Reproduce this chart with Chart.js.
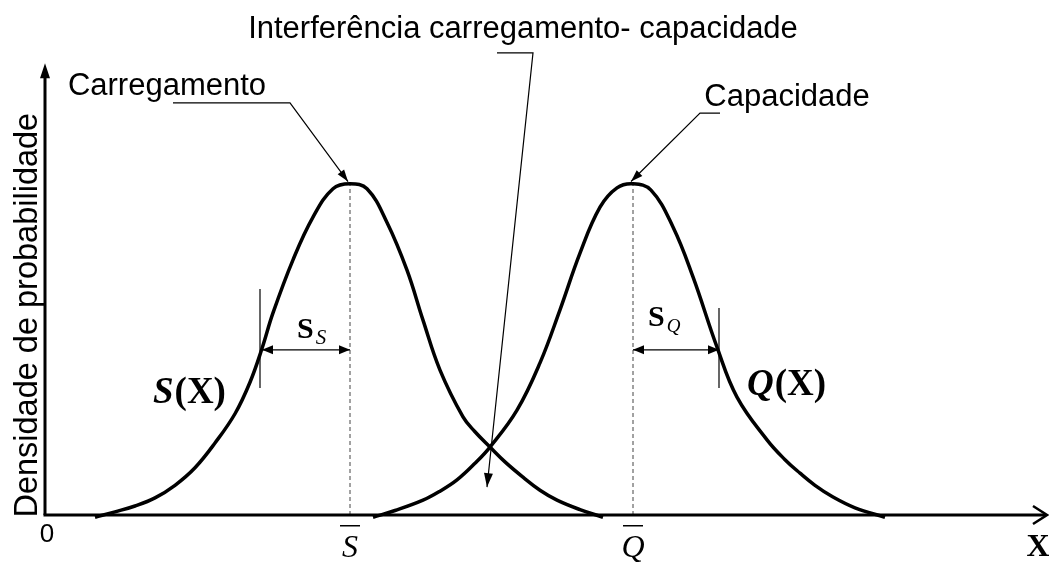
<!DOCTYPE html>
<html>
<head>
<meta charset="utf-8">
<script src="https://cdn.jsdelivr.net/npm/chart.js@4.4.0/dist/chart.umd.min.js"></script>
<style>
  html, body { margin: 0; padding: 0; background: #fff; }
  #wrap { width: 1049px; height: 563px; }
</style>
</head>
<body>
<div id="wrap"><canvas id="stressChart" width="1049" height="563"></canvas></div>
<script>
// Load (S) and capacity (Q) density curves
const loadX = [5.0, 7, 9, 11, 13, 15, 17, 19, 20.5, 21.7, 22.8, 24.8, 26.8, 28.8, 30.5, 32.2, 34.2, 36.2, 37.8, 39.5, 41.8, 43, 44.5, 46, 47.8, 49.5, 51.2, 53.5, 55.8];
const loadY = [-0.005, 0.007, 0.02, 0.038, 0.066, 0.105, 0.16, 0.225, 0.295, 0.37, 0.449, 0.567, 0.662, 0.725, 0.736, 0.725, 0.650, 0.544, 0.433, 0.322, 0.218, 0.185, 0.151, 0.118, 0.084, 0.055, 0.033, 0.012, -0.005];
const capX = [32.8, 35, 37.8, 39.5, 41.2, 43, 44.5, 47.2, 49.5, 51.5, 53.5, 55.5, 57.2, 58.8, 60.6, 62.8, 64.8, 67.2, 69.2, 72.2, 74, 75.5, 77, 78.8, 81, 84.0];
const capY = [-0.005, 0.01, 0.033, 0.053, 0.078, 0.115, 0.151, 0.233, 0.338, 0.456, 0.582, 0.684, 0.727, 0.736, 0.722, 0.640, 0.529, 0.373, 0.262, 0.167, 0.123, 0.093, 0.066, 0.040, 0.016, -0.005];

const loadMean = 30.5, loadSd = 8.8;
const capMean = 58.8, capSd = 8.6;
const peak = 0.736, sdLevel = 0.367;

const serif = '"Liberation Serif", "Times New Roman", serif';
const sans = '"Liberation Sans", Arial, sans-serif';

function arrowHead(ctx, x0, y0, x1, y1, len, half) {
  const a = Math.atan2(y1 - y0, x1 - x0);
  ctx.beginPath();
  ctx.moveTo(x1, y1);
  ctx.lineTo(x1 - len * Math.cos(a) + half * Math.sin(a), y1 - len * Math.sin(a) - half * Math.cos(a));
  ctx.lineTo(x1 - len * Math.cos(a) - half * Math.sin(a), y1 - len * Math.sin(a) + half * Math.cos(a));
  ctx.closePath();
  ctx.fill();
}

function polyline(ctx, pts) {
  ctx.beginPath();
  pts.forEach((p, i) => i ? ctx.lineTo(p[0], p[1]) : ctx.moveTo(p[0], p[1]));
  ctx.stroke();
}

const decorations = {
  id: "decorations",
  beforeDatasetsDraw(chart) {
    const { ctx, scales: { x, y } } = chart;
    ctx.save();
    ctx.strokeStyle = "#444";
    ctx.lineWidth = 1;
    ctx.setLineDash([4, 3]);
    [loadMean, capMean].forEach(m => {
      polyline(ctx, [[x.getPixelForValue(m), y.getPixelForValue(0)], [x.getPixelForValue(m), y.getPixelForValue(peak)]]);
    });
    ctx.restore();
  },
  afterDatasetsDraw(chart) {
    const { ctx, scales: { x, y } } = chart;
    const P = (a, b) => [x.getPixelForValue(a), y.getPixelForValue(b)];
    ctx.save();
    ctx.strokeStyle = "#000";
    ctx.fillStyle = "#000";

    // axes
    const o = P(0, 0), yt = P(0, 1.004), xt = P(100.2, 0);
    ctx.lineWidth = 3;
    polyline(ctx, [o, [yt[0], yt[1] + 10]]);
    arrowHead(ctx, o[0], o[1], yt[0], yt[1], 15, 5);
    polyline(ctx, [[o[0] - 1.5, o[1]], [xt[0] - 2, xt[1]]]);
    ctx.lineWidth = 2.5;
    polyline(ctx, [[xt[0] - 14, xt[1] - 9], xt, [xt[0] - 14, xt[1] + 9]]);

    // spread markers
    ctx.lineWidth = 1.2;
    polyline(ctx, [P(loadMean - loadSd - 0.2, 0.502), P(loadMean - loadSd - 0.2, 0.282)]);
    polyline(ctx, [P(capMean + capSd, 0.46), P(capMean + capSd, 0.282)]);
    const a1 = P(loadMean - loadSd, sdLevel), a2 = P(loadMean, sdLevel);
    polyline(ctx, [a1, a2]);
    arrowHead(ctx, a2[0], a2[1], a1[0], a1[1], 11, 4.5);
    arrowHead(ctx, a1[0], a1[1], a2[0], a2[1], 11, 4.5);
    const b1 = P(capMean, sdLevel), b2 = P(capMean + capSd, sdLevel);
    polyline(ctx, [b1, b2]);
    arrowHead(ctx, b2[0], b2[1], b1[0], b1[1], 11, 4.5);
    arrowHead(ctx, b1[0], b1[1], b2[0], b2[1], 11, 4.5);

    // leader lines
    ctx.lineWidth = 1.2;
    let l1 = [P(12.8, 0.916), P(24.5, 0.916), P(30.3, 0.741)];
    polyline(ctx, l1);
    arrowHead(ctx, l1[1][0], l1[1][1], l1[2][0], l1[2][1], 12, 4);
    let l2 = [P(67.5, 0.893), P(65.5, 0.893), P(58.6, 0.741)];
    polyline(ctx, l2);
    arrowHead(ctx, l2[1][0], l2[1][1], l2[2][0], l2[2][1], 12, 4);
    let l3 = [P(45.2, 1.027), P(48.8, 1.027), P(44.2, 0.062)];
    polyline(ctx, l3);
    arrowHead(ctx, l3[1][0], l3[1][1], l3[2][0], l3[2][1], 14, 4.5);

    // text
    ctx.textAlign = "center";
    ctx.textBaseline = "middle";
    const text = (s, font, p) => { ctx.font = font; ctx.fillText(s, p[0], p[1]); };
    text("Interferência carregamento- capacidade", "31px " + sans, P(47.8, 1.078));
    text("Carregamento", "31px " + sans, P(12.2, 0.953));
    text("Capacidade", "31px " + sans, P(74.2, 0.927));
    text("0", "26px " + sans, P(0.2, -0.044));

    ctx.save();
    const yl = P(-1.7, 0.444);
    ctx.translate(yl[0], yl[1]);
    ctx.rotate(-Math.PI / 2);
    ctx.font = "32.5px " + sans;
    ctx.fillText("Densidade de probabilidade", 0, 0);
    ctx.restore();

    // means on the axis
    [["S", loadMean], ["Q", capMean]].forEach(([s, m]) => {
      const p = P(m, -0.075);
      ctx.font = "italic 32px " + serif;
      ctx.fillText(s, p[0], p[1]);
      ctx.lineWidth = 1.5;
      polyline(ctx, [[p[0] - 10, p[1] - 23], [p[0] + 10, p[1] - 23]]);
    });
    text("X", "bold 32px " + serif, P(99.3, -0.073));

    // distribution names
    ctx.textAlign = "left";
    let p = P(10.8, 0.27);
    ctx.font = "italic bold 37px " + serif;
    ctx.fillText("S", p[0], p[1]);
    let w = ctx.measureText("S").width;
    ctx.font = "bold 37px " + serif;
    ctx.fillText("(X)", p[0] + w + 1, p[1]);

    p = P(70.2, 0.288);
    ctx.font = "italic bold 37px " + serif;
    ctx.fillText("Q", p[0], p[1]);
    w = ctx.measureText("Q").width;
    ctx.font = "bold 37px " + serif;
    ctx.fillText("(X)", p[0] + w + 1, p[1]);

    // spread labels
    p = P(25.2, 0.411);
    ctx.font = "bold 30px " + serif;
    ctx.fillText("S", p[0], p[1]);
    w = ctx.measureText("S").width;
    ctx.font = "italic 21px " + serif;
    ctx.fillText("S", p[0] + w + 2, p[1] + 8);

    p = P(60.3, 0.438);
    ctx.font = "bold 30px " + serif;
    ctx.fillText("S", p[0], p[1]);
    w = ctx.measureText("S").width;
    ctx.font = "italic 19px " + serif;
    ctx.fillText("Q", p[0] + w + 2, p[1] + 9);

    ctx.restore();
  }
};

new Chart(document.getElementById("stressChart").getContext("2d"), {
  type: "line",
  data: {
    datasets: [
      {
        label: "S(X)",
        data: loadX.map((v, i) => ({ x: v, y: loadY[i] })),
        borderColor: "#000",
        borderWidth: 3.5,
        pointRadius: 0,
        tension: 0.4,
        fill: false,
        clip: false
      },
      {
        label: "Q(X)",
        data: capX.map((v, i) => ({ x: v, y: capY[i] })),
        borderColor: "#000",
        borderWidth: 3.5,
        pointRadius: 0,
        tension: 0.4,
        fill: false,
        clip: false
      }
    ]
  },
  options: {
    responsive: false,
    animation: false,
    events: [],
    layout: { padding: { left: 45, right: 9, top: 65, bottom: 48 } },
    plugins: { legend: { display: false }, tooltip: { enabled: false } },
    scales: {
      x: { type: "linear", min: 0, max: 99.5, display: false },
      y: { min: 0, max: 1, display: false }
    }
  },
  plugins: [decorations]
});
</script>
</body>
</html>
